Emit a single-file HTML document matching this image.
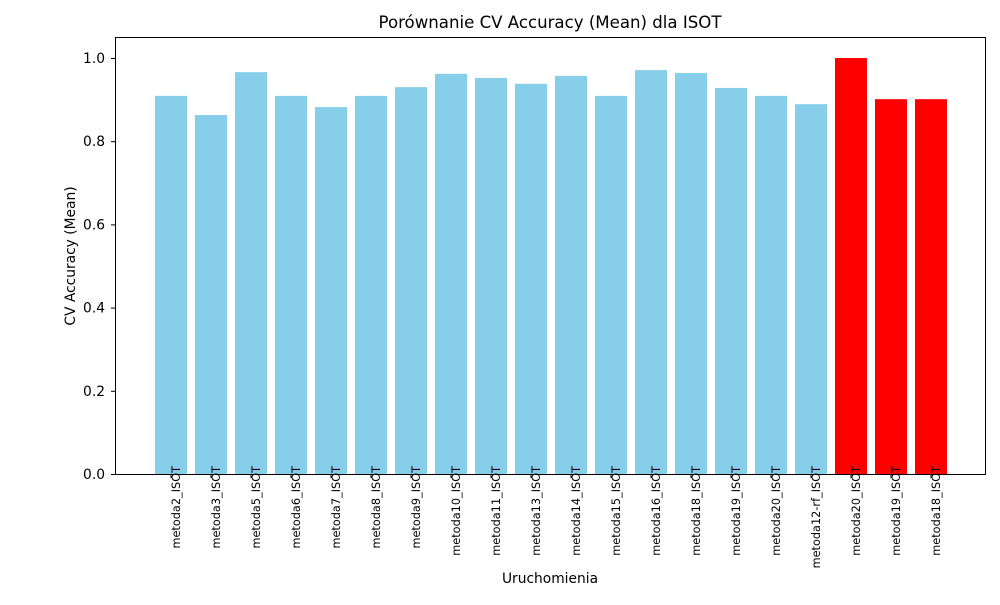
<!DOCTYPE html>
<html><head><meta charset="utf-8"><style>
body{margin:0;background:#fff}
svg{font-family:"DejaVu Sans","Liberation Sans",sans-serif}
</style></head><body>
<svg id="chart" width="1000" height="600">
<rect width="1000" height="600" fill="#fff"/>
<text x="550" y="28" text-anchor="middle" font-size="16.6">Porównanie CV Accuracy (Mean) dla ISOT</text>
<text x="75" y="256" text-anchor="middle" font-size="13.8" transform="rotate(-90 75 256)">CV Accuracy (Mean)</text>
<text x="550" y="583" text-anchor="middle" font-size="13.8">Uruchomienia</text>
<g id="bars"></g>
<g id="yaxis"></g>
<rect x="115.5" y="37.5" width="870" height="437" fill="none" stroke="#000" stroke-width="1"/>
<g id="xaxis"></g>
</svg>
<script>
const categories=["metoda2_ISOT","metoda3_ISOT","metoda5_ISOT","metoda6_ISOT","metoda7_ISOT","metoda8_ISOT","metoda9_ISOT","metoda10_ISOT","metoda11_ISOT","metoda13_ISOT","metoda14_ISOT","metoda15_ISOT","metoda16_ISOT","metoda18_ISOT","metoda19_ISOT","metoda20_ISOT","metoda12-rf_ISOT","metoda20_ISOT","metoda19_ISOT","metoda18_ISOT"];
const values=[0.909,0.863,0.966,0.909,0.882,0.909,0.930,0.962,0.952,0.938,0.957,0.909,0.971,0.964,0.928,0.909,0.889,1.0,0.901,0.901];
const highlighted=[false,false,false,false,false,false,false,false,false,false,false,false,false,false,false,false,false,true,true,true];
const yTicks=[0,0.2,0.4,0.6,0.8,1.0];
const yTickLabels=["0.0","0.2","0.4","0.6","0.8","1.0"];
const NS="http://www.w3.org/2000/svg";
const x=i=>171+(i)*40;
const y=v=>474-v*416;
const bars=document.getElementById('bars'),xa=document.getElementById('xaxis'),ya=document.getElementById('yaxis');
function mk(t,a,p){const e=document.createElementNS(NS,t);for(const k in a)e.setAttribute(k,a[k]);p.appendChild(e);return e;}
values.forEach((v,i)=>{
 const r=mk('rect',{x:x(i)-16,y:y(v),width:32,height:y(0)-y(v),fill:highlighted[i]?'#ff0000':'#87ceeb'},bars);
 
 
 const tk=mk('line',{x1:x(i),x2:x(i),y1:474,y2:478,stroke:'#000'},xa);
 
 
 const t=mk('text',{x:0,y:0,'font-size':11.3,'text-anchor':'end',transform:`translate(${x(i)+9},466) rotate(-90)`},xa);
 t.textContent=categories[i];
 
 
});
yTicks.forEach((v,i)=>{
 const tk=mk('line',{x1:111,x2:115,y1:y(v)+0.5,y2:y(v)+0.5,stroke:'#000'},ya);
 
 
 const t=mk('text',{x:105,y:y(v)+5,'font-size':13.8,'text-anchor':'end'},ya);
 t.textContent=yTickLabels[i];
 
 
});
</script>
</body></html>
